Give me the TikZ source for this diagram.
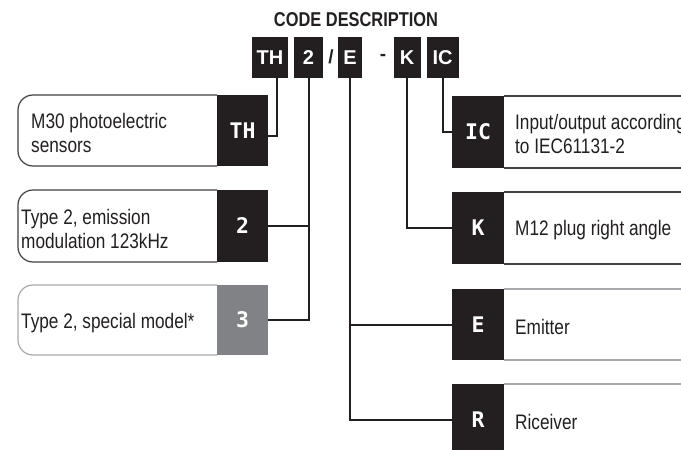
\documentclass[tikz,border=0pt]{standalone}
\usepackage{fontspec}
\setmainfont{Liberation Sans}
\newfontfamily\condf[FakeStretch=0.82]{Liberation Sans}
\newfontfamily\codef{DejaVu Sans Mono}
\definecolor{dark}{HTML}{231F20}
\definecolor{midgray}{HTML}{818285}
\definecolor{bordd}{HTML}{414042}
\definecolor{bordl}{HTML}{A7A9AC}
\tikzset{
  topcode/.style={fill=dark, text=white, font=\bfseries\fontsize{20}{20}\selectfont, minimum height=41pt, inner sep=0pt},
  codebox/.style={fill=dark, text=white, font=\codef\bfseries\fontsize{21.5}{22}\selectfont, minimum width=51pt, minimum height=71pt, inner sep=0pt},
  desc/.style={font=\condf\fontsize{21}{24}\selectfont, align=left, anchor=west, inner sep=0pt, text=dark},
  conn/.style={draw=dark, line width=2pt},
  frameD/.style={draw=bordd, line width=1.2pt},
  frameL/.style={draw=bordl, line width=1.2pt},
}
\begin{document}
\begin{tikzpicture}[x=1pt,y=-1pt]
\useasboundingbox (0,0) rectangle (681,450);
\clip (0,0) rectangle (681,450);
\fill[white] (0,0) rectangle (681,450);

% title
\node[font=\condf\bfseries\fontsize{20}{20}\selectfont, text=dark, inner sep=0pt] (title) at (356,20) {CODE DESCRIPTION};

% top code
\node[topcode, minimum width=36pt] (tTH) at (270,57.5) {TH};
\node[topcode, minimum width=29pt] (t2) at (308.5,57.5) {2};
\node[text=dark, font=\bfseries\fontsize{19}{19}\selectfont, inner sep=0pt] (slash) at (331,57) {/};
\node[topcode, minimum width=24pt] (tE) at (350,57.5) {E};
\node[text=dark, font=\bfseries\fontsize{19}{19}\selectfont, inner sep=0pt] (dash) at (383,57) {-};
\node[topcode, minimum width=27pt] (tK) at (407,57.5) {K};
\node[topcode, minimum width=32pt] (tIC) at (442.5,57.5) {IC};

% left boxes
\draw[frameD] (217,95) [rounded corners=15pt] -- (18,95) -- (18,166) [sharp corners] -- (217,166);
\node[codebox] (lTH) at (242.5,130.5) {TH};
\node[desc] (dTH) at (31,132.5) {M30 photoelectric\\sensors};

\draw[frameD] (217,190) [rounded corners=15pt] -- (18,190) -- (18,262) [sharp corners] -- (217,262);
\node[codebox, minimum height=72pt] (l2) at (242.5,226) {2};
\node[desc] (d2) at (21,228.5) {Type 2, emission\\modulation 123kHz};

\draw[frameL] (217,285) [rounded corners=15pt] -- (18,285) -- (18,355) [sharp corners] -- (217,355);
\node[codebox, fill=midgray, minimum height=70pt] (l3) at (242.5,320) {3};
\node[desc] (d3) at (21,323) {Type 2, special model*};

% right boxes
\draw[frameD] (504,96) -- (700,96) (504,168) -- (700,168);
\node[codebox, minimum width=52pt, minimum height=72pt] (rIC) at (478,132) {IC};
\node[desc] (dIC) at (515,134) {Input/output according\\to IEC61131-2};

\draw[frameD] (504,192) -- (700,192) (504,264) -- (700,264);
\node[codebox, minimum width=52pt, minimum height=72pt] (rK) at (478,228) {K};
\node[desc] (dK) at (515,230) {M12 plug right angle};

\draw[frameL] (504,289) -- (700,289) (504,360) -- (700,360);
\node[codebox, minimum width=52pt, minimum height=71pt] (rE) at (478,324.5) {E};
\node[desc] (dE) at (515,326.5) {Emitter};

\draw[frameL] (504,384) -- (700,384) (504,456) -- (700,456);
\node[codebox, minimum width=52pt, minimum height=72pt] (rR) at (478,420) {R};
\node[desc] (dR) at (515,422) {Riceiver};

% connectors
\draw[conn] ([xshift=7pt]tTH.south) |- ([yshift=-5pt]lTH.east);
\draw[conn] (t2.south) |- (l2.east);
\draw[conn] (t2.south) |- (l3.east);
\draw[conn] (tE.south) |- (rE.west);
\draw[conn] (tE.south) |- (rR.west);
\draw[conn] (tK.south) |- (rK.west);
\draw[conn] (tIC.south) |- (rIC.west);
\end{tikzpicture}
\end{document}
